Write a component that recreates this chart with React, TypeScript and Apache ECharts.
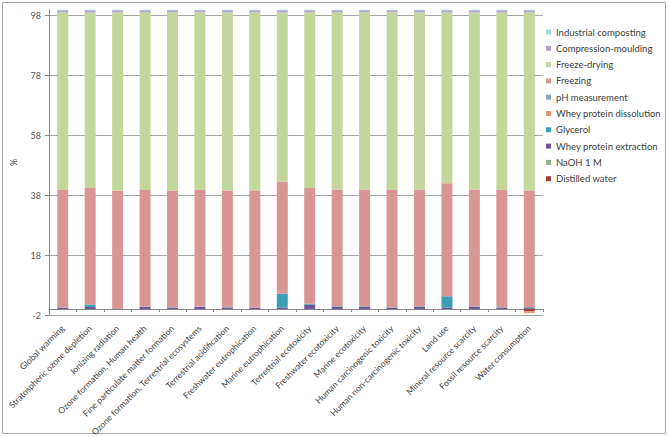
import React, { useEffect, useRef } from "react";
import * as echarts from "echarts";

const categories = [
  "Global warming",
  "Stratospheric ozone depletion",
  "Ionizing radiation",
  "Ozone formation, Human health",
  "Fine particulate matter formation",
  "Ozone formation, Terrestrial ecosystems",
  "Terrestrial acidification",
  "Freshwater eutrophication",
  "Marine eutrophication",
  "Terrestrial ecotoxicity",
  "Freshwater ecotoxicity",
  "Marine ecotoxicity",
  "Human carcinogenic toxicity",
  "Human non-carcinogenic toxicity",
  "Land use",
  "Mineral resource scarcity",
  "Fossil resource scarcity",
  "Water consumption",
];

const yTicks = [-2, 18, 38, 58, 78, 98];

const distilledWater = [0, 0, 0, 0, 0, 0, 0, 0, 0, 0, 0, 0, 0, 0, 0, 0, 0, -0.8];
const naoh1M = [0, 0, 0, 0, 0, 0, 0, 0, 0, 0, 0, 0, 0, 0, 0, 0, 0, 0];
const wheyProteinExtraction = [0.4, 0.7, 0.2, 0.7, 0.45, 0.7, 0.45, 0.35, 0.45, 1.45, 0.7, 0.7, 0.45, 0.7, 0.45, 0.7, 0.45, 0.3];
const glycerol = [0.1, 0.8, 0, 0.1, 0.1, 0.1, 0.15, 0.1, 4.7, 0.3, 0.2, 0.2, 0.1, 0.2, 3.8, 0.15, 0.1, 0.3];
const wheyProteinDissolution = [0, 0, 0, 0, 0, 0, 0, 0, 0, 0, 0, 0, 0, 0, 0, 0, 0, -0.5];
const phMeasurement = [0, 0, 0, 0, 0, 0, 0, 0, 0, 0, 0, 0, 0, 0, 0, 0, 0, 0];
const freezing = [39.3, 38.9, 39.3, 39.0, 39.05, 39.0, 39.0, 39.15, 37.35, 38.65, 39.0, 39.0, 39.25, 39.0, 37.75, 39.05, 39.25, 39.0];
const freezeDrying = [59.3, 58.7, 59.6, 59.3, 59.5, 59.3, 59.5, 59.5, 56.6, 58.7, 59.2, 59.2, 59.3, 59.2, 57.1, 59.2, 59.3, 59.5];
const compressionMoulding = [0.7, 0.7, 0.7, 0.7, 0.7, 0.7, 0.7, 0.7, 0.7, 0.7, 0.7, 0.7, 0.7, 0.7, 0.7, 0.7, 0.7, 0.7];
const industrialComposting = [0.2, 0.2, 0.2, 0.2, 0.2, 0.2, 0.2, 0.2, 0.2, 0.2, 0.2, 0.2, 0.2, 0.2, 0.2, 0.2, 0.2, 0.2];

const seriesDefs = [
  { name: "Distilled water", data: distilledWater, color: "#A0403E" },
  { name: "NaOH 1 M", data: naoh1M, color: "#8FAE8C" },
  { name: "Whey protein extraction", data: wheyProteinExtraction, color: "#6E5494" },
  { name: "Glycerol", data: glycerol, color: "#3C9DB3" },
  { name: "Whey protein dissolution", data: wheyProteinDissolution, color: "#E3956F" },
  { name: "pH measurement", data: phMeasurement, color: "#8FA8C4" },
  { name: "Freezing", data: freezing, color: "#D99694" },
  { name: "Freeze-drying", data: freezeDrying, color: "#C3D69B" },
  { name: "Compression-moulding", data: compressionMoulding, color: "#B3A2C7" },
  { name: "Industrial composting", data: industrialComposting, color: "#A5D5DE" },
];

const FONT = "Lato";

export default function App() {
  const ref = useRef<HTMLDivElement>(null);
  useEffect(() => {
    document.body.style.margin = "0";
    if (!ref.current) return;
    const chart = echarts.init(ref.current, undefined, { renderer: "svg" });
    chart.setOption({
      animation: false,
      backgroundColor: "#ffffff",
      textStyle: { fontFamily: FONT },
      graphic: [
        {
          type: "rect",
          shape: { x: 2.5, y: 2.5, width: 663, height: 431 },
          style: { fill: "none", stroke: "#A6A6A6", lineWidth: 1 },
          silent: true,
        },
      ],
      grid: {
        left: 49,
        right: 126,
        top: 9.7,
        bottom: 122,
        containLabel: false,
        outerBoundsMode: "none",
      },
      legend: {
        orient: "vertical",
        left: 541,
        top: 22,
        itemWidth: 5,
        itemHeight: 5,
        itemGap: 6.3,
        icon: "rect",
        data: seriesDefs.map((s) => s.name).reverse(),
        textStyle: { fontFamily: FONT, fontSize: 9.5, color: "#404040", lineHeight: 10 },
      },
      xAxis: {
        type: "category",
        data: categories,
        axisLine: { onZero: true, lineStyle: { color: "#868686", width: 1 } },
        axisTick: { show: true, length: 3, lineStyle: { color: "#868686" } },
        axisLabel: {
          rotate: 45,
          interval: 0,
          margin: 12,
          fontFamily: FONT,
          fontSize: 8.6,
          color: "#404040",
        },
      },
      yAxis: {
        type: "value",
        min: -2,
        max: 100,
        name: "%",
        nameLocation: "middle",
        nameGap: 31,
        nameRotate: 90,
        nameTextStyle: { fontFamily: FONT, fontSize: 9, color: "#404040" },
        axisLine: { show: true, lineStyle: { color: "#868686" } },
        axisTick: { show: true, length: 4, customValues: yTicks, lineStyle: { color: "#868686" } },
        axisLabel: { customValues: yTicks, fontFamily: FONT, fontSize: 9, color: "#595959", margin: 8 },
        splitLine: { show: true, lineStyle: { color: "#A6A6A6", width: 1 } },
      },
      series: seriesDefs.map((s) => ({
        name: s.name,
        type: "bar",
        stack: "total",
        barWidth: "40%",
        data: s.data,
        itemStyle: { color: s.color },
      })),
    });
    return () => chart.dispose();
  }, []);
  return <div ref={ref} style={{ width: 669, height: 437 }} />;
}
